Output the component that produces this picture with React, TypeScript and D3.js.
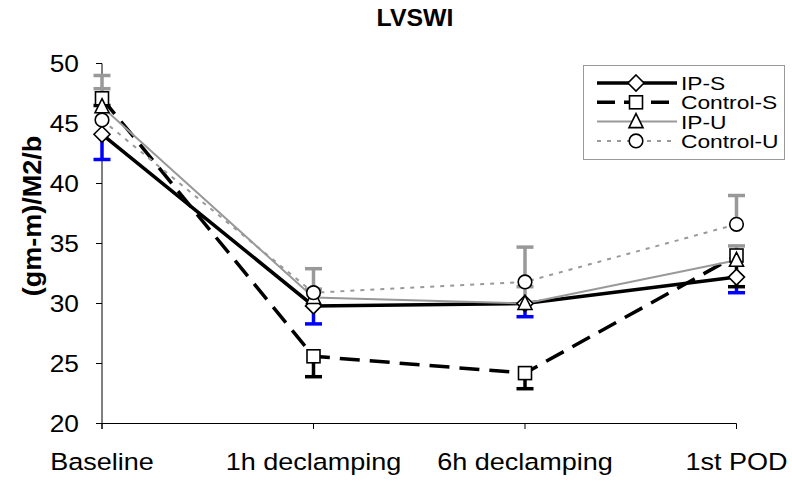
import React from "react";
import * as d3 from "d3";

const categories = ["Baseline", "1h declamping", "6h declamping", "1st POD"];
const seriesNames = ["IP-S", "Control-S", "IP-U", "Control-U"];
const ipS = [44.1, 29.8, 30.0, 32.2];
const ipSErr = [42.0, 28.3, 28.9, 30.9];
const controlS = [47.1, 25.6, 24.2, 34.0];
const controlSErr = [46.5, 23.9, 22.9, 31.4];
const ipU = [46.4, 30.5, 30.0, 33.6];
const ipUErr = [49.0, 31.2, 31.4, 34.8];
const controlU = [45.3, 30.9, 31.8, 36.6];
const controlUErr = [47.9, 32.9, 34.7, 39.0];
const yTicks = [20, 25, 30, 35, 40, 45, 50];
const title = "LVSWI";
const yTitle = "(gm-m)/M2/b";

const W = 792;
const H = 483;
const FONT = "'Liberation Sans', Arial, sans-serif";

type Style = {
  name: string;
  values: number[];
  err: number[];
  color: string;
  width: number;
  dash?: string;
  errColor: string;
  marker: "diamond" | "square" | "triangle" | "circle";
};

const series: Style[] = [
  { name: seriesNames[0], values: ipS, err: ipSErr, color: "#000", width: 3.5, errColor: "#0000ff", marker: "diamond" },
  { name: seriesNames[1], values: controlS, err: controlSErr, color: "#000", width: 3.5, dash: "20,10", errColor: "#000", marker: "square" },
  { name: seriesNames[2], values: ipU, err: ipUErr, color: "#999", width: 2, errColor: "#999", marker: "triangle" },
  { name: seriesNames[3], values: controlU, err: controlUErr, color: "#999", width: 2, dash: "4,6", errColor: "#999", marker: "circle" },
];

function Marker({ type, x, y }: { type: string; x: number; y: number }) {
  const common = { fill: "#fff", stroke: "#000", strokeWidth: 1.6 };
  if (type === "diamond") {
    const r = 8;
    return <path d={`M${x},${y - r}L${x + r},${y}L${x},${y + r}L${x - r},${y}Z`} {...common} />;
  }
  if (type === "square") {
    const s = 6.5;
    return <rect x={x - s} y={y - s} width={2 * s} height={2 * s} {...common} />;
  }
  if (type === "triangle") {
    return <path d={`M${x},${y - 8}L${x + 7},${y + 6}L${x - 7},${y + 6}Z`} {...common} />;
  }
  return <circle cx={x} cy={y} r={6.8} {...common} />;
}

function SText({
  x, y, sx = 1.1, size, anchor = "start", bold = false, children, rotate = 0,
}: any) {
  return (
    <g transform={`translate(${x},${y}) rotate(${rotate}) scale(${sx},1)`}>
      <text x={0} y={0} fontSize={size} fontFamily={FONT} textAnchor={anchor} fontWeight={bold ? "bold" : "normal"} fill="#000">
        {children}
      </text>
    </g>
  );
}

export default function App() {
  const x = d3.scalePoint<string>().domain(categories).range([102, 736.5]);
  const y = d3.scaleLinear().domain([20, 50]).range([423.5, 63.5]);
  const line = d3.line<number>().x((_, i) => x(categories[i])!).y((d) => y(d));
  const cap = 8.5;

  return (
    <svg width={W} height={H} style={{ position: "absolute", left: 0, top: 0, background: "#fff" }}>
      <rect width={W} height={H} fill="#fff" />
      <SText x={415} y={26} size={23} anchor="middle" bold sx={1.08}>{title}</SText>
      <SText x={41} y={216} size={25} anchor="middle" bold rotate={-90} sx={1.08}>{yTitle}</SText>

      {/* axes */}
      <line x1={102} x2={102} y1={63.5} y2={429} stroke="#000" strokeWidth={1} />
      {yTicks.map((t) => (
        <g key={t}>
          <line x1={96} x2={102} y1={y(t)} y2={y(t)} stroke="#000" />
          <SText x={79} y={y(t) + 8.5} size={23.5} anchor="end" sx={1.12}>{t}</SText>
        </g>
      ))}
      <line x1={102} x2={736.5} y1={423.5} y2={423.5} stroke="#000" />
      {categories.map((c) => (
        <g key={c}>
          <line x1={x(c)} x2={x(c)} y1={423.5} y2={429} stroke="#000" />
          <SText x={x(c)} y={470} size={23.5} anchor="middle" sx={1.15}>{c}</SText>
        </g>
      ))}

      {/* lines */}
      {series.map((s) => (
        <path key={s.name} d={line(s.values)!} fill="none" stroke={s.color} strokeWidth={s.width} strokeDasharray={s.dash} />
      ))}
      {/* error bars */}
      {series.map((s) =>
        s.values.map((v, i) => {
          const cx = x(categories[i])!;
          return (
            <g key={s.name + i} stroke={s.errColor} strokeWidth={3.5}>
              <line x1={cx} x2={cx} y1={y(v)} y2={y(s.err[i])} />
              <line x1={cx - cap} x2={cx + cap} y1={y(s.err[i])} y2={y(s.err[i])} />
            </g>
          );
        })
      )}
      {/* markers */}
      {series.map((s) =>
        s.values.map((v, i) => <Marker key={s.name + "m" + i} type={s.marker} x={x(categories[i])!} y={y(v)} />)
      )}

      {/* legend */}
      <rect x={583.5} y={65.5} width={201} height={94} fill="#fff" stroke="#999" strokeWidth={1} />
      {series.map((s, i) => {
        const ly = 83 + i * 19.3;
        return (
          <g key={s.name + "leg"}>
            <line x1={597} x2={677} y1={ly} y2={ly} stroke={s.color} strokeWidth={s.width} strokeDasharray={s.dash ? (s.marker === "circle" ? "4,6" : "18,9") : undefined} />
            <Marker type={s.marker} x={636} y={ly} />
            <SText x={681} y={ly + 7} size={19} anchor="start" sx={1.2}>{s.name}</SText>
          </g>
        );
      })}
    </svg>
  );
}
